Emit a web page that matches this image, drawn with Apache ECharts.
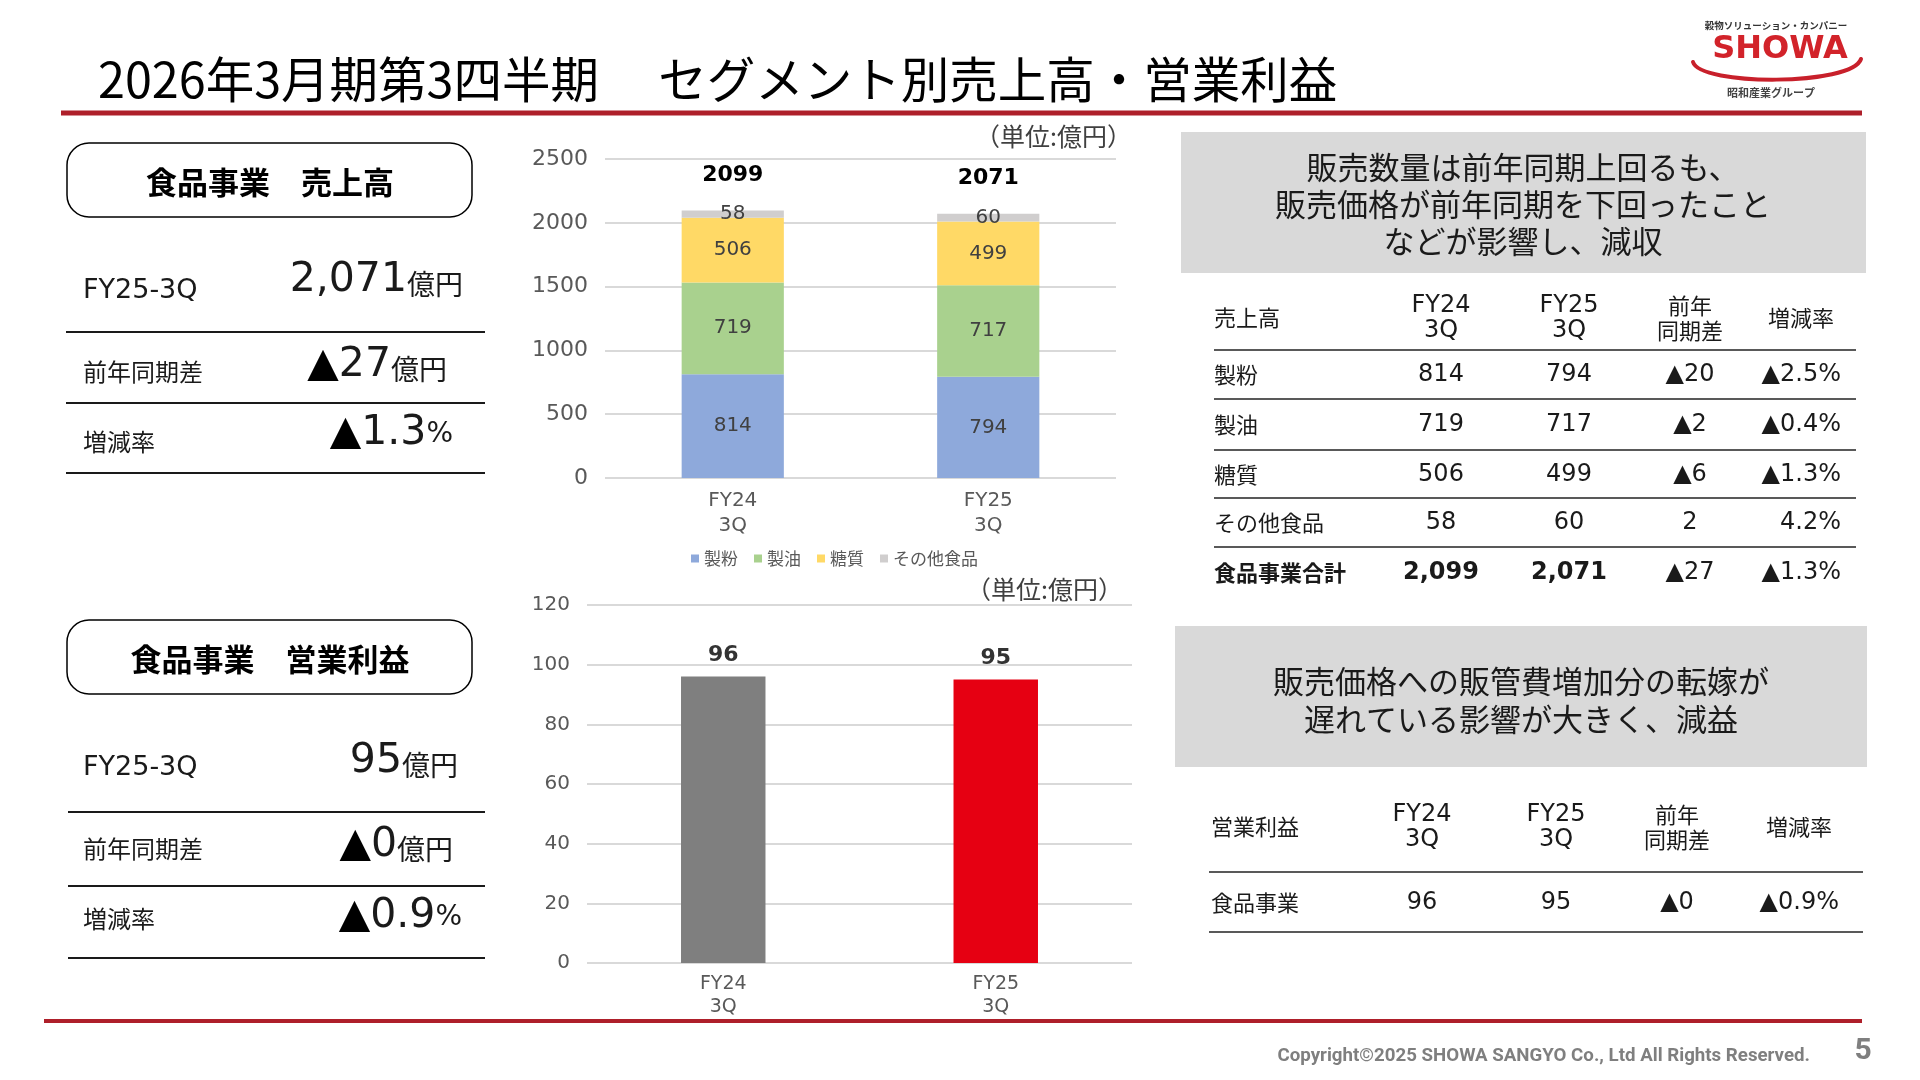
<!DOCTYPE html>
<html>
<head>
<meta charset="utf-8">
<script src="https://cdn.jsdelivr.net/npm/echarts@6/dist/echarts.min.js"></script>
<style>
html,body{margin:0;padding:0;background:#fff;}
#main{width:1920px;height:1080px;}
</style>
</head>
<body>
<div id="main"></div>
<script>
var JP = "'Noto Sans CJK JP'";
var NUM = "'DejaVu Sans','Noto Sans CJK JP'";

/** -------- データ -------- */
var periods = ['FY24\n3Q', 'FY25\n3Q'];
var segNames = ['製粉', '製油', '糖質', 'その他食品'];
var segColors = ['#8EA9DB', '#A9D18E', '#FFD966', '#D0CECE'];
var seifun = [814, 794];
var seiyu = [719, 717];
var toushitsu = [506, 499];
var sonota = [58, 60];
var salesTotal = [2099, 2071];
var profit = [96, 95];
var profitColors = ['#7F7F7F', '#E60012'];

// 売上高テーブル
var salesRows = ['製粉', '製油', '糖質', 'その他食品', '食品事業合計'];
var salesFY24 = ['814', '719', '506', '58', '2,099'];
var salesFY25 = ['794', '717', '499', '60', '2,071'];
var salesDiff = ['▲20', '▲2', '▲6', '2', '▲27'];
var salesRate = ['▲2.5%', '▲0.4%', '▲1.3%', '4.2%', '▲1.3%'];
// 営業利益テーブル
var profitRows = ['食品事業'];
var profitFY24 = ['96'];
var profitFY25 = ['95'];
var profitDiff = ['▲0'];
var profitRate = ['▲0.9%'];

// 左パネル
var salesPanel = ['2,071', '27', '1.3'];
var profitPanel = ['95', '0', '0.9'];

/** -------- 描画ヘルパー -------- */
function txt(x, y, s, size, o) {
	o = o || {};
	return {
		type: 'text', x: x, y: y, silent: true, z: 10,
		style: {
			text: s, fontSize: size, fontFamily: o.family || JP,
			fontWeight: o.weight || 'normal', fill: o.color || '#1a1a1a',
			align: o.align || 'left', verticalAlign: o.valign || 'middle',
			lineHeight: o.lh, rich: o.rich
		}
	};
}
function hline(x1, x2, y, color, w) {
	return {type: 'line', silent: true, shape: {x1: x1, y1: y, x2: x2, y2: y},
		style: {stroke: color, lineWidth: w}};
}

var valRich = {
	t: {fontSize: 41, fontFamily: 'DejaVu Sans', fill: '#000', verticalAlign: 'bottom'},
	n: {fontSize: 41, fontFamily: 'DejaVu Sans', fill: '#1a1a1a', verticalAlign: 'bottom'},
	u: {fontSize: 28, fontFamily: JP, fill: '#1a1a1a', verticalAlign: 'bottom', padding: [0, 0, 3, 0]},
	p: {fontSize: 28, fontFamily: 'DejaVu Sans', fill: '#1a1a1a', verticalAlign: 'bottom', padding: [0, 0, 5, 0]}
};
function bigVal(xr, base, s) {
	return txt(xr, base + 8, s, 41, {align: 'right', valign: 'bottom', rich: valRich});
}

function panel(top, title) {
	var g = [];
	var rowY = [top + 148, top + 229, top + 299];
	g.push({type: 'rect', silent: true, shape: {x: 67, y: top, width: 405, height: 74, r: 22},
		style: {fill: 'none', stroke: '#000', lineWidth: 1.5}});
	g.push(txt(270, top + 39, title, 31, {weight: 'bold', align: 'center', color: '#000'}));
	g.push(txt(83, rowY[0], 'FY25-3Q', 27, {family: 'DejaVu Sans'}));
	g.push(txt(83, rowY[1], '前年同期差', 24));
	g.push(txt(83, rowY[2], '増減率', 24));
	return g;
}

var graphics = [];
// タイトル
graphics.push(txt(98, 80, '2026年3月期第3四半期　 セグメント別売上高・営業利益', 48.5, {color: '#000'}));
graphics.push(hline(61, 1862, 113, '#AE1F2A', 5));
graphics.push(hline(44, 1862, 1021, '#AE1F2A', 4));

// ロゴ
graphics.push(txt(1776, 25, '穀物ソリューション・カンパニー', 9.5, {align: 'center', weight: 'bold', color: '#333'}));
graphics.push(txt(1780, 50, 'SHOWA', 32, {family: 'DejaVu Sans', weight: 'bold', align: 'center', color: '#D2232A'}));
graphics.push({type: 'bezierCurve', silent: true,
	shape: {x1: 1693, y1: 62, cpx1: 1700, cpy1: 86, cpx2: 1852, cpy2: 86, x2: 1861, y2: 59},
	style: {stroke: '#C8202B', lineWidth: 4, fill: 'none', lineCap: 'round'}});
graphics.push(txt(1771, 93, '昭和産業グループ', 11, {align: 'center', weight: 'bold', color: '#444'}));

// 左パネル：売上高
graphics = graphics.concat(panel(143, '食品事業　売上高'));
graphics.push(hline(66, 485, 332, '#1a1a1a', 2));
graphics.push(hline(66, 485, 403, '#1a1a1a', 2));
graphics.push(hline(66, 485, 473, '#1a1a1a', 2));
graphics.push(bigVal(463, 293, '{n|' + salesPanel[0] + '}{u|億円}'));
graphics.push(bigVal(447, 378, '{t|▲}{n|' + salesPanel[1] + '}{u|億円}'));
graphics.push(bigVal(453, 446, '{t|▲}{n|' + salesPanel[2] + '}{p|%}'));

// 左パネル：営業利益
graphics = graphics.concat(panel(620, '食品事業　営業利益'));
graphics.push(hline(68, 485, 812, '#1a1a1a', 2));
graphics.push(hline(68, 485, 886, '#1a1a1a', 2));
graphics.push(hline(68, 485, 958, '#1a1a1a', 2));
graphics.push(bigVal(458, 774, '{n|' + profitPanel[0] + '}{u|億円}'));
graphics.push(bigVal(453, 858, '{t|▲}{n|' + profitPanel[1] + '}{u|億円}'));
graphics.push(bigVal(462, 929, '{t|▲}{n|' + profitPanel[2] + '}{p|%}'));

// 単位
graphics.push(txt(1132, 136, '（単位:億円）', 25, {align: 'right', color: '#404040'}));
graphics.push(txt(1123, 589, '（単位:億円）', 25, {align: 'right', color: '#404040'}));

// 右：売上高コメント＋テーブル
graphics.push({type: 'rect', silent: true, shape: {x: 1181, y: 132, width: 685, height: 141}, style: {fill: '#D9D9D9'}});
graphics.push(txt(1523, 204, '販売数量は前年同期上回るも、\n販売価格が前年同期を下回ったこと\nなどが影響し、減収', 31, {align: 'center', lh: 37}));

var tblFont = 24;
graphics.push(txt(1214, 318, '売上高', 22));
graphics.push(txt(1441, 318, 'FY24\n3Q', tblFont, {family: NUM, align: 'center', lh: 25}));
graphics.push(txt(1569, 318, 'FY25\n3Q', tblFont, {family: NUM, align: 'center', lh: 25}));
graphics.push(txt(1690, 318, '前年\n同期差', 22, {align: 'center', lh: 25}));
graphics.push(txt(1801, 318, '増減率', 22, {align: 'center'}));
[350, 399, 450, 498, 547].forEach(function(y) {
	graphics.push(hline(1214, 1856, y, '#595959', 2));
});
var rowYs = [375, 425, 475, 523, 573];
for (var i = 0; i < salesRows.length; i++) {
	var b = (i === salesRows.length - 1) ? 'bold' : 'normal';
	graphics.push(txt(1214, rowYs[i], salesRows[i], 22, {weight: b}));
	graphics.push(txt(1441, rowYs[i], salesFY24[i], tblFont, {family: NUM, align: 'center', weight: b}));
	graphics.push(txt(1569, rowYs[i], salesFY25[i], tblFont, {family: NUM, align: 'center', weight: b}));
	graphics.push(txt(1690, rowYs[i], salesDiff[i], tblFont, {family: NUM, align: 'center'}));
	graphics.push(txt(1841, rowYs[i], salesRate[i], tblFont, {family: NUM, align: 'right'}));
}

// 右：営業利益コメント＋テーブル
graphics.push({type: 'rect', silent: true, shape: {x: 1175, y: 626, width: 692, height: 141}, style: {fill: '#D9D9D9'}});
graphics.push(txt(1521, 700, '販売価格への販管費増加分の転嫁が\n遅れている影響が大きく、減益', 31, {align: 'center', lh: 38}));
graphics.push(txt(1211, 827, '営業利益', 22));
graphics.push(txt(1422, 827, 'FY24\n3Q', tblFont, {family: NUM, align: 'center', lh: 25}));
graphics.push(txt(1556, 827, 'FY25\n3Q', tblFont, {family: NUM, align: 'center', lh: 25}));
graphics.push(txt(1677, 827, '前年\n同期差', 22, {align: 'center', lh: 25}));
graphics.push(txt(1799, 827, '増減率', 22, {align: 'center'}));
graphics.push(hline(1209, 1863, 872, '#595959', 2));
graphics.push(hline(1209, 1863, 932, '#595959', 2));
for (var j = 0; j < profitRows.length; j++) {
	graphics.push(txt(1211, 903, profitRows[j], 22));
	graphics.push(txt(1422, 903, profitFY24[j], tblFont, {family: NUM, align: 'center'}));
	graphics.push(txt(1556, 903, profitFY25[j], tblFont, {family: NUM, align: 'center'}));
	graphics.push(txt(1677, 903, profitDiff[j], tblFont, {family: NUM, align: 'center'}));
	graphics.push(txt(1839, 903, profitRate[j], tblFont, {family: NUM, align: 'right'}));
}

// フッター
graphics.push(txt(1810, 1056, 'Copyright©2025 SHOWA SANGYO Co., Ltd All Rights Reserved.', 18.7, {family: 'Roboto', weight: 'bold', align: 'right', color: '#7F7F7F'}));
graphics.push(txt(1863, 1051, '5', 30, {family: 'Roboto', weight: 'bold', align: 'center', color: '#7F7F7F'}));

/** -------- チャート -------- */
var chart = echarts.init(document.getElementById('main'));

var segData = [seifun, seiyu, toushitsu, sonota];
var series = [];
for (var k = 0; k < segNames.length; k++) {
	series.push({
		name: segNames[k], type: 'bar', stack: 'sales', xAxisIndex: 0, yAxisIndex: 0,
		data: segData[k], barWidth: '40%', barGap: '-100%',
		itemStyle: {color: segColors[k]},
		label: {show: true, position: 'inside', color: '#404040', fontSize: 20, fontFamily: NUM}
	});
}
series.push({
	name: '合計', type: 'bar', xAxisIndex: 0, yAxisIndex: 0, data: salesTotal,
	barWidth: '40%', barGap: '-100%', silent: true, z: 1,
	itemStyle: {color: 'rgba(0,0,0,0)'},
	label: {show: true, position: 'top', distance: 24, color: '#000', fontSize: 22, fontWeight: 'bold', fontFamily: NUM}
});
series.push({
	name: '営業利益', type: 'bar', xAxisIndex: 1, yAxisIndex: 1, barWidth: '31%',
	data: profit.map(function(v, i) { return {value: v, itemStyle: {color: profitColors[i]}}; }),
	label: {show: true, position: 'top', distance: 10, color: '#333', fontSize: 22, fontWeight: 'bold', fontFamily: NUM}
});

var plain = function(v) { return String(v); };

var option = {
	animation: false,
	backgroundColor: '#fff',
	grid: [
		{left: 605, right: 804, top: 159, bottom: 602},
		{left: 587, right: 788, top: 605, bottom: 117}
	],
	legend: {
		data: segNames, left: 686, top: 545, icon: 'rect', itemWidth: 8, itemHeight: 8, itemGap: 16,
		textStyle: {fontSize: 17, color: '#595959', fontFamily: JP}
	},
	xAxis: [
		{gridIndex: 0, type: 'category', data: periods, axisLine: {show: false}, axisTick: {show: false},
			axisLabel: {fontSize: 20, color: '#595959', lineHeight: 25, margin: 10, fontFamily: NUM}},
		{gridIndex: 1, type: 'category', data: periods, axisLine: {show: false}, axisTick: {show: false},
			axisLabel: {fontSize: 19, color: '#595959', lineHeight: 23, margin: 10, fontFamily: NUM}}
	],
	yAxis: [
		{gridIndex: 0, type: 'value', min: 0, max: 2500, interval: 500,
			axisLabel: {fontSize: 22, color: '#595959', margin: 17, fontFamily: NUM, formatter: plain},
			splitLine: {lineStyle: {color: '#D9D9D9', width: 2}}},
		{gridIndex: 1, type: 'value', min: 0, max: 120, interval: 20,
			axisLabel: {fontSize: 20, color: '#595959', margin: 17, fontFamily: NUM, formatter: plain},
			splitLine: {lineStyle: {color: '#D9D9D9', width: 2}}}
	],
	series: series,
	graphic: graphics
};
chart.setOption(option);
</script>
</body>
</html>
